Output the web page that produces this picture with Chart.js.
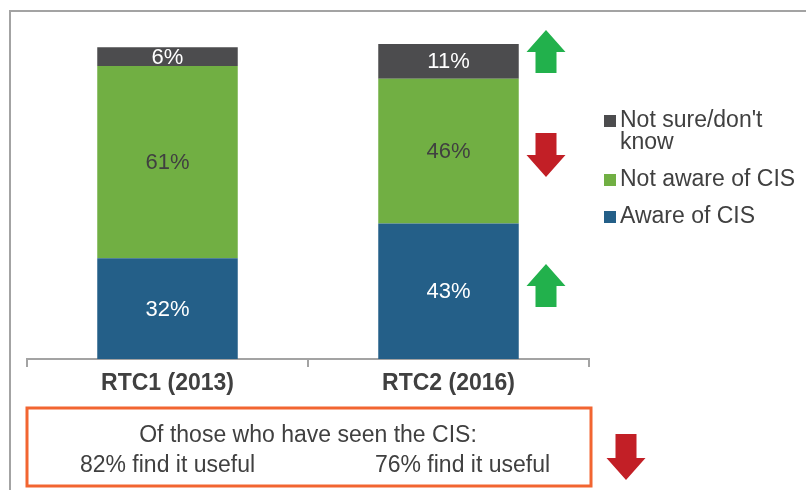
<!DOCTYPE html>
<html>
<head>
<meta charset="utf-8">
<script src="https://cdn.jsdelivr.net/npm/chart.js@4"></script>
<style>
html, body { margin: 0; padding: 0; background: #fff; }
canvas { display: block; }
</style>
</head>
<body>
<canvas id="cisChart" width="806" height="490"></canvas>
<script>
// Data
const categories = ['RTC1 (2013)', 'RTC2 (2016)'];
const awareValues = [32, 43];
const notAwareValues = [61, 46];
const notSureValues = [6, 11];
const seriesNames = ['Aware of CIS', 'Not aware of CIS', "Not sure/don't know"];
const usefulHeader = 'Of those who have seen the CIS:';
const usefulLabels = ['82% find it useful', '76% find it useful'];

// Colours
const BLUE = '#245f88';
const GREEN = '#71af43';
const GREY = '#4c4c4e';
const TEXT = '#404040';
const ARROW_UP = '#22b14c';
const ARROW_DOWN = '#c21f26';
const FONT = '"Liberation Sans", Arial, sans-serif';

const ctx = document.getElementById('cisChart').getContext('2d');

function drawArrow(c, cx, top, bottom, up, color) {
    const w = 39, shaft = 21, head = 22;
    c.save();
    c.fillStyle = color;
    c.beginPath();
    if (up) {
        c.moveTo(cx, top);
        c.lineTo(cx + w / 2, top + head);
        c.lineTo(cx + shaft / 2, top + head);
        c.lineTo(cx + shaft / 2, bottom);
        c.lineTo(cx - shaft / 2, bottom);
        c.lineTo(cx - shaft / 2, top + head);
        c.lineTo(cx - w / 2, top + head);
    } else {
        c.moveTo(cx, bottom);
        c.lineTo(cx + w / 2, bottom - head);
        c.lineTo(cx + shaft / 2, bottom - head);
        c.lineTo(cx + shaft / 2, top);
        c.lineTo(cx - shaft / 2, top);
        c.lineTo(cx - shaft / 2, bottom - head);
        c.lineTo(cx - w / 2, bottom - head);
    }
    c.closePath();
    c.fill();
    c.restore();
}

function wrapText(c, text, maxWidth) {
    const words = text.split(' ');
    const lines = [];
    let line = '';
    words.forEach(w => {
        const test = line ? line + ' ' + w : w;
        if (c.measureText(test).width > maxWidth && line) {
            lines.push(line);
            line = w;
        } else {
            line = test;
        }
    });
    if (line) lines.push(line);
    return lines;
}

const decorPlugin = {
    id: 'decor',
    beforeDraw: (chart) => {
        const c = chart.ctx;
        c.save();
        c.fillStyle = '#fff';
        c.fillRect(0, 0, chart.width, chart.height);
        // outer frame (left and top edges)
        c.strokeStyle = '#a3a3a3';
        c.lineWidth = 2;
        c.beginPath();
        c.moveTo(10, 490);
        c.lineTo(10, 11);
        c.lineTo(806, 11);
        c.stroke();
        c.restore();
    },
    afterDraw: (chart) => {
        const c = chart.ctx;
        const x = chart.scales.x;
        c.save();

        // segment labels
        c.font = '22px ' + FONT;
        c.textAlign = 'center';
        c.textBaseline = 'middle';
        chart.data.datasets.forEach((ds, di) => {
            const meta = chart.getDatasetMeta(di);
            meta.data.forEach((bar, i) => {
                c.fillStyle = ds.labelColor;
                c.fillText(ds.data[i] + '%', bar.x, (bar.y + bar.base) / 2 + 1);
            });
        });

        // legend (top item first)
        c.font = '23px ' + FONT;
        c.textAlign = 'left';
        let ly = 121;
        for (let di = chart.data.datasets.length - 1; di >= 0; di--) {
            const ds = chart.data.datasets[di];
            const lines = wrapText(c, ds.label, 180);
            c.fillStyle = ds.backgroundColor;
            c.fillRect(604, ly - 6, 12, 12);
            c.fillStyle = TEXT;
            lines.forEach((ln, k) => c.fillText(ln, 620, ly + k * 22));
            ly += (lines.length - 1) * 22 + 37;
        }

        // change arrows
        const ax = 546;
        drawArrow(c, ax, 30, 73, true, ARROW_UP);
        drawArrow(c, ax, 133, 177, false, ARROW_DOWN);
        drawArrow(c, ax, 264, 307, true, ARROW_UP);
        drawArrow(c, 626, 434, 480, false, ARROW_DOWN);

        // "find it useful" box
        c.strokeStyle = '#f26531';
        c.lineWidth = 3;
        c.strokeRect(27, 408, 564, 78);
        c.fillStyle = TEXT;
        c.textAlign = 'center';
        c.fillText(usefulHeader, (x.left + x.right) / 2, 436);
        const offsets = [0, 14];
        usefulLabels.forEach((t, i) => {
            c.fillText(t, x.getPixelForValue(i) + offsets[i], 466);
        });

        c.restore();
    }
};

new Chart(ctx, {
    type: 'bar',
    data: {
        labels: categories,
        datasets: [
            { label: seriesNames[0], data: awareValues, backgroundColor: BLUE, labelColor: '#fff' },
            { label: seriesNames[1], data: notAwareValues, backgroundColor: GREEN, labelColor: TEXT },
            { label: seriesNames[2], data: notSureValues, backgroundColor: GREY, labelColor: '#fff' }
        ]
    },
    options: {
        responsive: false,
        animation: false,
        devicePixelRatio: 1,
        layout: { padding: { left: 27, right: 217, top: 44, bottom: 0 } },
        datasets: { bar: { categoryPercentage: 0.5, barPercentage: 1 } },
        plugins: {
            legend: { display: false },
            tooltip: { enabled: false }
        },
        scales: {
            x: {
                stacked: true,
                offset: true,
                grid: { offset: true, drawOnChartArea: false, drawTicks: true, tickLength: 8, color: '#a3a3a3', lineWidth: 2 },
                border: { display: true, color: '#a3a3a3', width: 2 },
                ticks: { color: TEXT, padding: 3, font: { family: FONT, size: 23, weight: 'bold' } },
                afterFit: (scale) => { scale.height = 131; }
            },
            y: { stacked: true, display: false, min: 0, max: 100 }
        }
    },
    plugins: [decorPlugin]
});
</script>
</body>
</html>
